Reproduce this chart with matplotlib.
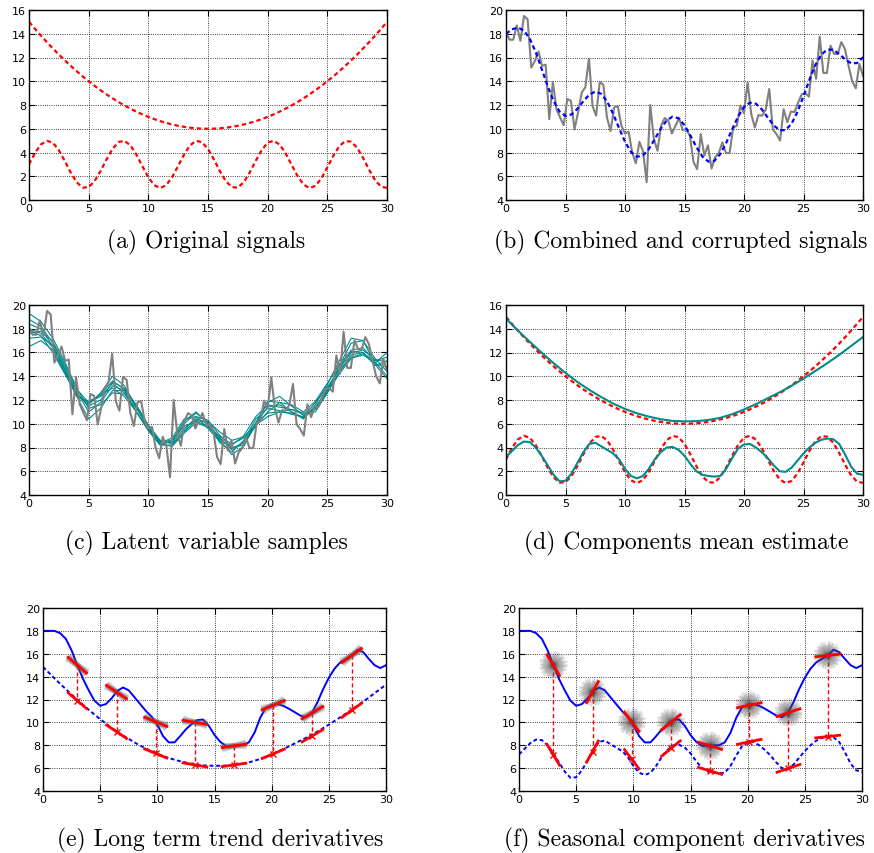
import numpy as np
import matplotlib
matplotlib.use("Agg")
import matplotlib.pyplot as plt

# ---- data ----
# true components, sampled every 0.5
trend_true = [15.0, 14.41, 13.84, 13.29, 12.76, 12.25, 11.76, 11.29, 10.84, 10.41,
              10.0, 9.61, 9.24, 8.89, 8.56, 8.25, 7.96, 7.69, 7.44, 7.21,
              7.0, 6.81, 6.64, 6.49, 6.36, 6.25, 6.16, 6.09, 6.04, 6.01,
              6.0, 6.01, 6.04, 6.09, 6.16, 6.25, 6.36, 6.49, 6.64, 6.81,
              7.0, 7.21, 7.44, 7.69, 7.96, 8.25, 8.56, 8.89, 9.24, 9.61,
              10.0, 10.41, 10.84, 11.29, 11.76, 12.25, 12.76, 13.29, 13.84, 14.41,
              15.0]
seasonal_true = [3.0, 3.96, 4.68, 4.99, 4.82, 4.2, 3.28, 2.3, 1.49, 1.04,
                 1.08, 1.59, 2.44, 3.43, 4.31, 4.88, 4.98, 4.6, 3.82, 2.85,
                 1.91, 1.24, 1.0, 1.25, 1.93, 2.87, 3.84, 4.61, 4.98, 4.87,
                 4.3, 3.41, 2.42, 1.58, 1.08, 1.04, 1.5, 2.32, 3.3, 4.21,
                 4.83, 4.99, 4.67, 3.94, 2.98, 2.03, 1.31, 1.0, 1.19, 1.82,
                 2.74, 3.72, 4.53, 4.96, 4.91, 4.4, 3.54, 2.55, 1.67, 1.12,
                 1.02]
combined = [18.0, 18.37, 18.52, 18.28, 17.58, 16.45, 15.04, 13.59, 12.33, 11.45,
            11.08, 11.2, 11.68, 12.32, 12.87, 13.13, 12.94, 12.29, 11.26, 10.06,
            8.91, 8.05, 7.64, 7.74, 8.29, 9.12, 10.0, 10.7, 11.02, 10.88,
            10.3, 9.42, 8.46, 7.67, 7.24, 7.29, 7.86, 8.81, 9.94, 11.02,
            11.83, 12.2, 12.11, 11.63, 10.94, 10.28, 9.87, 9.89, 10.43, 11.43,
            12.74, 14.13, 15.37, 16.25, 16.67, 16.65, 16.3, 15.84, 15.51, 15.53,
            16.02]

# corrupted observations (100 points over 0..30)
observed = [18.1, 17.5, 17.5, 18.7, 17.4, 19.5, 19.2, 15.15, 15.7, 16.5,
            15.3, 15.4, 10.8, 13.95, 11.65, 10.95, 10.3, 12.5, 12.35, 9.95,
            11.4, 13.05, 13.5, 15.9, 11.9, 11.1, 13.95, 13.7, 10.95, 9.8,
            11.8, 11.9, 10.25, 9.6, 9.75, 8.0, 7.1, 8.9, 8.1, 5.5,
            12.0, 9.15, 8.15, 10.25, 10.9, 10.7, 9.6, 10.25, 10.9, 9.9,
            9.95, 9.4, 7.2, 6.6, 9.55, 7.75, 8.6, 6.65, 7.6, 7.95,
            8.85, 7.95, 7.95, 10.1, 10.25, 11.95, 11.3, 13.9, 11.25, 10.1,
            11.15, 11.1, 11.6, 13.35, 9.95, 9.55, 9.0, 11.65, 10.55, 11.45,
            11.4, 12.2, 12.9, 13.0, 12.7, 15.75, 14.2, 17.75, 14.7, 14.7,
            17.0, 16.3, 16.3, 17.3, 16.7, 15.3, 14.0, 13.4, 15.45, 14.45]

# latent samples, every 1.0
samples = [
    [19.3, 18.6, 17.2, 15.2, 13.0, 11.3, 11.6, 12.6, 12.5, 11.3, 9.8, 8.5, 8.4, 9.6, 10.4, 10.0,
     8.8, 7.8, 8.5, 10.0, 11.4, 11.6, 11.0, 10.5, 11.4, 12.9, 14.7, 16.2, 16.4, 15.2, 14.0],
    [18.8, 18.2, 16.8, 14.8, 12.7, 11.0, 11.8, 13.2, 12.8, 11.0, 9.5, 8.2, 8.2, 9.4, 10.6, 10.3,
     9.0, 8.0, 8.2, 9.9, 11.8, 12.3, 11.5, 10.7, 11.3, 12.8, 14.9, 16.8, 17.0, 15.5, 14.4],
    [18.0, 17.6, 16.4, 14.6, 12.6, 11.5, 12.0, 13.5, 13.0, 11.4, 9.6, 8.3, 8.5, 10.0, 10.9, 10.1,
     8.6, 7.4, 8.1, 10.1, 11.9, 11.8, 11.0, 10.4, 11.6, 13.3, 15.3, 17.2, 17.0, 15.0, 13.8],
    [17.6, 17.8, 16.9, 15.0, 12.9, 11.8, 12.3, 13.4, 12.6, 11.0, 9.4, 8.2, 8.6, 10.2, 11.0, 10.0,
     8.4, 7.6, 8.6, 10.4, 11.3, 11.1, 10.8, 10.6, 11.8, 13.1, 14.5, 15.6, 15.9, 15.3, 15.6],
    [17.2, 17.3, 16.6, 14.6, 12.4, 11.6, 12.6, 14.0, 13.2, 11.4, 9.7, 8.4, 8.8, 10.4, 10.6, 9.6,
     8.5, 8.2, 9.0, 10.6, 11.6, 11.4, 11.2, 10.9, 11.2, 12.6, 14.2, 15.5, 15.8, 15.1, 16.0],
    [16.5, 17.0, 16.2, 14.3, 12.3, 11.9, 12.4, 13.0, 12.3, 11.0, 9.6, 8.5, 8.6, 9.8, 10.2, 9.8,
     8.9, 8.3, 8.8, 10.0, 10.9, 11.0, 10.9, 10.5, 11.3, 12.7, 14.3, 15.8, 16.0, 15.0, 14.8],
    [18.4, 18.0, 16.5, 14.4, 12.3, 10.4, 11.3, 12.8, 12.8, 11.5, 9.9, 8.6, 8.3, 9.3, 10.3, 10.2,
     9.3, 8.6, 8.9, 9.9, 10.6, 11.0, 11.2, 10.8, 11.0, 12.6, 14.6, 16.0, 16.2, 15.4, 15.2],
    [17.9, 17.4, 16.0, 14.2, 12.5, 11.7, 12.5, 13.6, 12.9, 11.6, 9.8, 8.3, 8.1, 9.2, 10.1, 9.7,
     8.7, 7.9, 8.4, 9.8, 11.0, 11.8, 11.6, 11.0, 11.9, 13.4, 15.0, 16.1, 16.0, 14.9, 15.3],
]

# estimated components
trend_est = [14.85, 13.85, 12.9, 11.98, 11.1, 10.28, 9.52, 8.85, 8.25, 7.7,
             7.25, 6.88, 6.6, 6.38, 6.24, 6.2, 6.22, 6.32, 6.5, 6.8,
             7.2, 7.65, 8.15, 8.65, 9.2, 9.8, 10.45, 11.1, 11.8, 12.55, 13.3]
seasonal_est = [3.2, 3.7, 4.2, 4.5, 4.45, 4.0, 3.3, 2.5, 1.7, 1.15,
                1.2, 1.8, 2.7, 3.6, 4.3, 4.4, 4.1, 3.8, 3.5, 3.0,
                2.2, 1.6, 1.4, 1.6, 2.2, 3.0, 3.6, 4.0, 4.05, 3.8,
                3.3, 2.6, 2.0, 1.7, 1.6, 1.55, 1.6, 2.2, 3.1, 3.9,
                4.25, 4.3, 4.0, 3.6, 3.1, 2.5, 2.0, 1.95, 2.3, 2.9,
                3.5, 4.0, 4.4, 4.65, 4.75, 4.7, 4.3, 3.4, 2.4, 1.8,
                1.7]
seasonal_offset = 4.0

# posterior mean of the latent signal, every 0.5
posterior = [18.0, 18.0, 18.0, 17.8, 17.3, 16.3, 15.0, 13.8, 12.8, 11.9,
             11.45, 11.6, 12.1, 12.75, 13.05, 12.8, 12.2, 11.6, 11.0, 10.5,
             9.8, 8.8, 8.25, 8.25, 8.8, 9.4, 9.85, 10.2, 10.25, 9.7,
             8.9, 8.3, 7.95, 7.95, 8.0, 8.0, 8.25, 9.1, 10.4, 11.3,
             11.5, 11.6, 11.45, 11.2, 10.9, 10.6, 10.45, 10.8, 11.75, 12.9,
             13.9, 14.7, 15.25, 15.55, 15.85, 16.35, 16.15, 15.55, 15.0, 14.75,
             15.0]

# derivative probe points
probe_x = [3.0, 6.43, 9.86, 13.29, 16.71, 20.14, 23.57, 27.0]
probe_y = [15.0, 12.65, 10.05, 10.0, 7.95, 11.5, 10.85, 15.85]
trend_probe_y = [11.9, 9.18, 7.28, 6.28, 6.28, 7.25, 8.83, 11.05]
trend_slopes = [-0.86, -0.67, -0.41, -0.17, 0.14, 0.42, 0.59, 0.72]
season_probe_y = [7.16, 7.45, 6.78, 7.72, 5.76, 8.3, 5.98, 8.76]
season_slopes = [-1.66, 1.8, -1.32, 0.82, -0.3, 0.21, 0.34, 0.11]
# spread of derivative samples (degrees)
trend_spread = [-12, -8, -5, -2, 0, 2, 5, 8, 12]
season_spread = [0, 7, 14, 21, 28, 35, 41, 48, 55, 62, 69, 76, 83, 90,
                 97, 104, 111, 118, 125, 131, 138, 145, 152, 159, 166, 173]
season_lengths = [1.2, 0.95, 1.25, 1.05, 0.85, 1.2, 1.0, 1.25, 0.9, 1.1, 1.2, 0.95, 1.25,
                  1.05, 0.85, 1.2, 1.0, 1.25, 0.9, 1.1, 1.2, 0.95, 1.05, 1.25, 0.9, 1.15]

x_half = np.linspace(0, 30, len(trend_true))
x_unit = np.linspace(0, 30, len(trend_est))
x_obs = np.linspace(0, 30, len(observed))

RED = "#ff0000"
BLUE = "#0000ff"
GRAY = "#808080"
TEAL = "#008b8b"
DASH = (0, (2.0, 1.4))
W, H = 874, 854


def px_axes(fig, l, t, r, b):
    return fig.add_axes([l / W, 1 - b / H, (r - l) / W, (b - t) / H])


def style(ax, lo, hi):
    ax.set_xlim(0, 30)
    ax.set_ylim(lo, hi)
    ax.set_xticks(range(0, 31, 5))
    ax.set_yticks(range(lo, hi + 1, 2))
    ax.grid(True, color="k", linestyle=":", linewidth=0.6)
    ax.tick_params(direction="in", top=True, right=True, labelsize=8,
                   pad=2, length=4, width=0.8)
    for s in ax.spines.values():
        s.set_linewidth(1.0)


def caption(cx, cy, text):
    fig.text(cx / W, 1 - cy / H, text, ha="center", va="center",
             fontfamily="cmr10", fontsize=17)


def segment(ax, x, y, ang, half=1.05, **kw):
    # ang in radians, half = half-length in data units
    dx = half * np.cos(ang)
    dy = half * np.sin(ang)
    ax.plot([x - dx, x + dx], [y - dy, y + dy], **kw)


fig = plt.figure(figsize=(W / 100, H / 100), dpi=100)

# (a)
ax = px_axes(fig, 29, 11, 387, 201)
ax.plot(x_half, trend_true, color=RED, lw=1.6, linestyle=DASH)
ax.plot(x_half, seasonal_true, color=RED, lw=1.6, linestyle=DASH)
style(ax, 0, 16)
caption(206, 242, "(a) Original signals")

# (b)
ax = px_axes(fig, 506, 11, 863, 201)
ax.plot(x_obs, observed, color=GRAY, lw=1.5)
ax.plot(x_half, combined, color=BLUE, lw=1.6, linestyle=DASH)
style(ax, 4, 20)
caption(681, 242, "(b) Combined and corrupted signals")

# (c)
ax = px_axes(fig, 29, 306, 387, 496)
for s in samples:
    ax.plot(x_unit, s, color=TEAL, lw=0.8)
ax.plot(x_obs, observed, color=GRAY, lw=1.5)
style(ax, 4, 20)
caption(206, 543, "(c) Latent variable samples")

# (d)
ax = px_axes(fig, 506, 306, 863, 496)
ax.plot(x_half, trend_true, color=RED, lw=1.6, linestyle=DASH)
ax.plot(x_half, seasonal_true, color=RED, lw=1.6, linestyle=DASH)
ax.plot(x_unit, trend_est, color=TEAL, lw=1.5)
ax.plot(x_half, seasonal_est, color=TEAL, lw=1.5)
style(ax, 0, 16)
caption(686, 543, "(d) Components mean estimate")

# (e)
ax = px_axes(fig, 43, 609, 386, 792)
ax.plot(x_half, posterior, color=BLUE, lw=1.4)
ax.plot(x_unit, trend_est, color=BLUE, lw=1.4, linestyle=DASH)
for x, y, yl, s in zip(probe_x, probe_y, trend_probe_y, trend_slopes):
    ax.plot([x, x], [y, yl], color=RED, lw=1.0, linestyle=(0, (3, 2)))
    for d in trend_spread:
        segment(ax, x, y, np.arctan(s) + np.radians(d), half=1.1,
                color="0.4", lw=4, alpha=0.13, solid_capstyle="butt")
    segment(ax, x, y, np.arctan(s), color=RED, lw=2)
    segment(ax, x, yl, np.arctan(s), color=RED, lw=2)
    ax.plot(x, yl, marker="x", color=RED, ms=4, mew=1)
style(ax, 4, 20)
caption(220, 840, "(e) Long term trend derivatives")

# (f)
ax = px_axes(fig, 519, 609, 862, 792)
ax.plot(x_half, posterior, color=BLUE, lw=1.4)
ax.plot(x_half, np.array(seasonal_est) + seasonal_offset, color=BLUE, lw=1.4,
        linestyle=DASH)
for x, y, yl, s in zip(probe_x, probe_y, season_probe_y, season_slopes):
    ax.plot([x, x], [y, yl], color=RED, lw=1.0, linestyle=(0, (3, 2)))
    for d, ln in zip(season_spread, season_lengths):
        segment(ax, x, y, np.radians(d), half=ln,
                color="0.3", lw=2.0, alpha=0.18, solid_capstyle="butt")
    segment(ax, x, y, np.arctan(s), color=RED, lw=2)
    segment(ax, x, yl, np.arctan(s), color=RED, lw=2)
    ax.plot(x, yl, marker="x", color=RED, ms=4, mew=1)
style(ax, 4, 20)
caption(684, 840, "(f) Seasonal component derivatives")

fig.savefig("out.png", dpi=100)
